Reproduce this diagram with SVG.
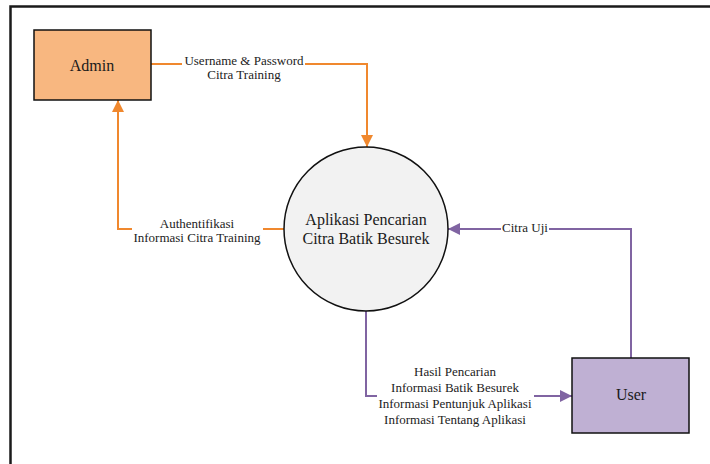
<svg xmlns="http://www.w3.org/2000/svg" width="710" height="464" viewBox="0 0 710 464">
<style>
.frame{fill:none;stroke:#1a1a1a;stroke-width:2.5}
.box{stroke:#111;stroke-width:1.5}
.ent{font-family:'Liberation Serif',Tinos,'Times New Roman',Times,'DejaVu Serif',serif;font-size:16px;fill:#1a1a1a;text-anchor:middle}
.lbl{font-family:'Liberation Serif',Tinos,'Times New Roman',Times,'DejaVu Serif',serif;font-size:13px;fill:#222;text-anchor:middle}
.or{fill:none;stroke:#F0882E;stroke-width:2}
.pu{fill:none;stroke:#8064A2;stroke-width:2}
.bg{fill:#fff}
</style>
<defs>
<marker id="ao" markerUnits="userSpaceOnUse" markerWidth="12" markerHeight="12" viewBox="0 0 12 12" refX="12" refY="6" orient="auto">
<path d="M0,0 L12,6 L0,12 Z" fill="#F0882E"/>
</marker>
<marker id="ap" markerUnits="userSpaceOnUse" markerWidth="12" markerHeight="12" viewBox="0 0 12 12" refX="12" refY="6" orient="auto">
<path d="M0,0 L12,6 L0,12 Z" fill="#8064A2"/>
</marker>
</defs>
<rect width="710" height="464" fill="#fff"/>
<path class="frame" d="M10.5,470 V6.5 H715"/>
<g id="connectors">
<path class="or" d="M151,64 H367 V147" marker-end="url(#ao)"/>
<path class="or" d="M284,229 H118 V100" marker-end="url(#ao)"/>
<path class="pu" d="M631,358 V229 H448" marker-end="url(#ap)"/>
<path class="pu" d="M366,311 V396 H572" marker-end="url(#ap)"/>
<rect class="bg" x="182" y="53" width="123" height="29"/>
<text class="lbl" x="244" y="65">Username &amp; Password</text>
<text class="lbl" x="244" y="79">Citra Training</text>
<rect class="bg" x="132" y="216" width="131" height="29"/>
<text class="lbl" x="197" y="228">Authentifikasi</text>
<text class="lbl" x="197" y="242">Informasi Citra Training</text>
<rect class="bg" x="501" y="222" width="48" height="11"/>
<text class="lbl" x="525" y="232">Citra Uji</text>
<rect class="bg" x="377" y="363" width="157" height="64"/>
<text class="lbl" x="455" y="376">Hasil Pencarian</text>
<text class="lbl" x="455" y="392">Informasi Batik Besurek</text>
<text class="lbl" x="455" y="408">Informasi Pentunjuk Aplikasi</text>
<text class="lbl" x="455" y="424">Informasi Tentang Aplikasi</text>
</g>
<g id="admin">
<rect class="box" x="34" y="30" width="117" height="70" fill="#F8B780"/>
<text class="ent" x="92" y="71">Admin</text>
</g>
<g id="app">
<circle cx="366" cy="229" r="82" fill="#F2F2F2" stroke="#111" stroke-width="1.5"/>
<text class="ent" x="366" y="225">Aplikasi Pencarian</text>
<text class="ent" x="366" y="244">Citra Batik Besurek</text>
</g>
<g id="user">
<rect class="box" x="572" y="358" width="117" height="75" fill="#BFB0D3"/>
<text class="ent" x="631" y="400">User</text>
</g>
</svg>
